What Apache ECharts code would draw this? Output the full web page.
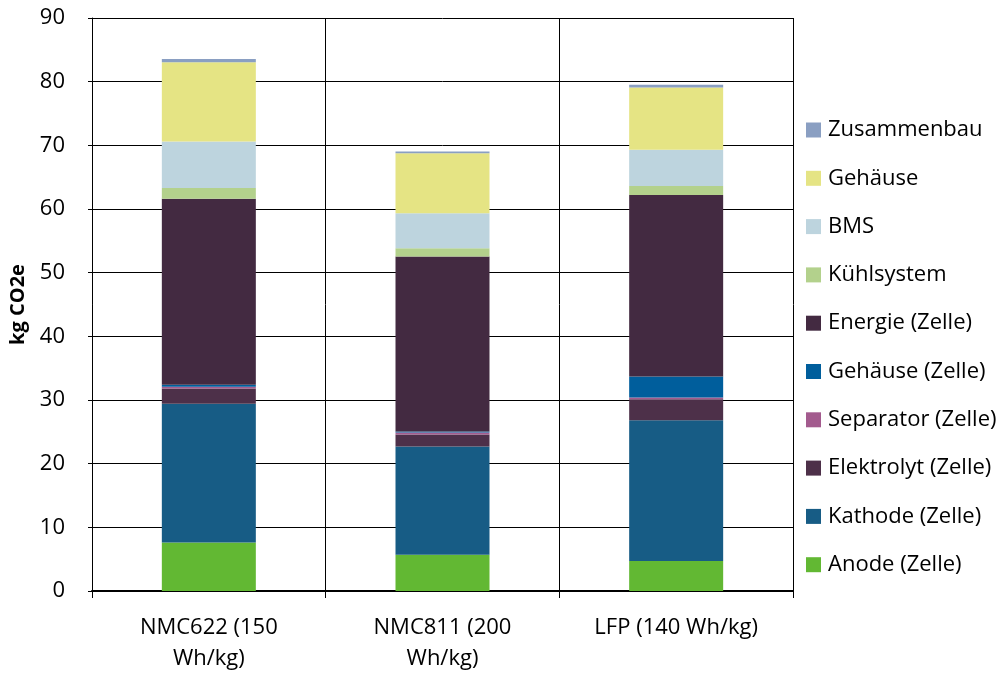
<!DOCTYPE html>
<html>
<head>
<meta charset="utf-8">
<script src="https://cdn.jsdelivr.net/npm/echarts@6/dist/echarts.min.js"></script>
<style>
  html, body { margin: 0; padding: 0; background: #fff; }
  #chart { width: 1008px; height: 673px; }
</style>
</head>
<body>
<div id="chart"></div>
<script>
// Battery pack footprint per component, kg CO2e
const categories = ['NMC622 (150\nWh/kg)', 'NMC811 (200\nWh/kg)', 'LFP (140 Wh/kg)'];

const anode       = [7.6, 5.7, 4.7];
const kathode     = [21.8, 17.0, 22.1];
const elektrolyt  = [2.4, 1.9, 3.3];
const separator   = [0.3, 0.3, 0.3];
const gehaeuseZelle = [0.3, 0.15, 3.3];
const energie     = [29.2, 27.5, 28.5];
const kuehlsystem = [1.7, 1.3, 1.4];
const bms         = [7.3, 5.5, 5.7];
const gehaeuse    = [12.45, 9.4, 9.8];
const zusammenbau = [0.5, 0.3, 0.4];

const yTicks = { min: 0, max: 90, interval: 10 };

// stacked from bottom to top
const stackOrder = [
  { name: 'Anode (Zelle)',      data: anode,         color: '#62B833' },
  { name: 'Kathode (Zelle)',    data: kathode,       color: '#175C85' },
  { name: 'Elektrolyt (Zelle)', data: elektrolyt,    color: '#4D3049' },
  { name: 'Separator (Zelle)',  data: separator,     color: '#A35B8E' },
  { name: 'Gehäuse (Zelle)',    data: gehaeuseZelle, color: '#005E9C' },
  { name: 'Energie (Zelle)',    data: energie,       color: '#432A41' },
  { name: 'Kühlsystem',         data: kuehlsystem,   color: '#B3D18C' },
  { name: 'BMS',                data: bms,           color: '#BDD4DE' },
  { name: 'Gehäuse',            data: gehaeuse,      color: '#E5E484' },
  { name: 'Zusammenbau',        data: zusammenbau,   color: '#8A9FC2' }
];

const font = 'Open Sans';
const fontSize = 22;

const chart = echarts.init(document.getElementById('chart'), null, { renderer: 'canvas' });

chart.setOption({
  animation: false,
  backgroundColor: '#ffffff',
  textStyle: { fontFamily: font, color: '#000' },
  grid: { left: 92, right: 215, top: 18, bottom: 82, containLabel: false, outerBoundsMode: 'none' },
  legend: {
    orient: 'vertical',
    left: 806,
    top: 119,
    padding: 0,
    itemWidth: 15,
    itemHeight: 15,
    itemGap: 26.3,
    icon: 'rect',
    data: stackOrder.map(s => s.name).reverse(),
    textStyle: { fontFamily: font, fontSize: fontSize, color: '#000', lineHeight: 20, padding: [0, 0, 0, 2] }
  },
  xAxis: {
    type: 'category',
    data: categories,
    boundaryGap: true,
    axisLine: { show: true, lineStyle: { color: '#000', width: 2 } },
    axisTick: { show: true, alignWithLabel: false, interval: 0, length: 7, lineStyle: { color: '#000', width: 1 } },
    splitLine: { show: true, interval: 0, lineStyle: { color: '#000', width: 1 } },
    axisLabel: {
      interval: 0,
      margin: 21,
      fontFamily: font,
      fontSize: fontSize,
      lineHeight: 31,
      color: '#000'
    }
  },
  yAxis: {
    type: 'value',
    min: yTicks.min,
    max: yTicks.max,
    interval: yTicks.interval,
    name: 'kg CO2e',
    nameLocation: 'middle',
    nameGap: 64,
    nameRotate: 90,
    nameTextStyle: { fontFamily: font, fontSize: 20, fontWeight: 'bold', color: '#000' },
    axisLine: { show: true, lineStyle: { color: '#000', width: 1 } },
    axisTick: { show: true, length: 4, lineStyle: { color: '#000' } },
    splitLine: { show: true, lineStyle: { color: '#000', width: 1 } },
    axisLabel: { margin: 27, fontFamily: font, fontSize: fontSize, color: '#000' }
  },
  series: stackOrder.map(s => ({
    name: s.name,
    type: 'bar',
    stack: 'total',
    barWidth: 94,
    data: s.data,
    itemStyle: { color: s.color },
    emphasis: { disabled: true }
  }))
});
</script>
</body>
</html>
